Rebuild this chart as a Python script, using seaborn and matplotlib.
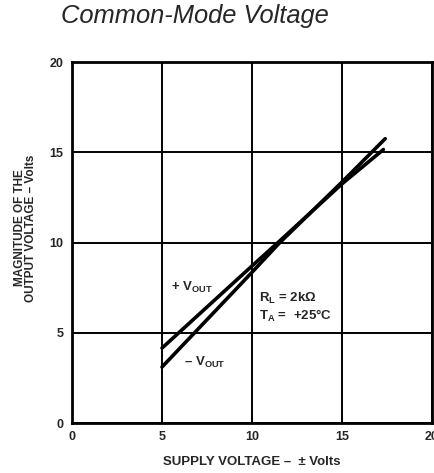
import matplotlib
matplotlib.use("Agg")
import matplotlib.pyplot as plt
import seaborn as sns
import pandas as pd

# values
supply = [5, 10, 11.5, 15, 17.3]
pos_vout = [4.15, 8.7, 10.05, 13.25, 15.15]
supply_neg = [5, 10, 11.5, 15, 17.4]
neg_vout = [3.1, 8.35, 9.95, 13.35, 15.75]
ticks = [0, 5, 10, 15, 20]

sns.set_style("white")
plt.rcParams['font.family'] = ['Liberation Sans', 'DejaVu Sans']
plt.rcParams['mathtext.fontset'] = 'custom'
plt.rcParams['mathtext.rm'] = 'Liberation Sans:bold'
plt.rcParams['mathtext.bf'] = 'Liberation Sans:bold'

df = pd.concat([
    pd.DataFrame({'supply': supply, 'vout': pos_vout, 'curve': '+Vout'}),
    pd.DataFrame({'supply': supply_neg, 'vout': neg_vout, 'curve': '-Vout'}),
])

fig = plt.figure(figsize=(4.35, 4.73), dpi=100)
ax = fig.add_axes([0.1655, 0.1057, 0.8276, 0.7632])

sns.lineplot(data=df, x='supply', y='vout', units='curve', estimator=None,
             color='black', lw=2.6, legend=False, ax=ax, sort=False)

ax.set_xlim(0, 20)
ax.set_ylim(0, 20)
ax.set_xticks(ticks)
ax.set_yticks(ticks)
ax.set_xticklabels([str(t) for t in ticks], fontsize=9, fontweight='bold')
ax.set_yticklabels([str(t) for t in ticks], fontsize=9, fontweight='bold')
ax.tick_params(length=0, pad=6)
ax.grid(True, color='black', lw=1.4)
for s in ax.spines.values():
    s.set_color('black')
    s.set_linewidth(2)

ax.set_xlabel('SUPPLY VOLTAGE –  ± Volts', fontsize=9.5, fontweight='bold', labelpad=9)
ax.set_ylabel('MAGNITUDE OF THE\nOUTPUT VOLTAGE – Volts', fontsize=8.5,
              fontweight='bold', linespacing=0.95)
ax.yaxis.set_label_coords(-0.097, 0.54)

ax.text(5.5, 7.5, r'+ V$_{\mathrm{OUT}}$', fontsize=9.5, fontweight='bold', va='center')
ax.text(6.2, 3.35, r'– V$_{\mathrm{OUT}}$', fontsize=9.5, fontweight='bold', va='center')
ax.text(10.4, 6.4, 'R$_{\\mathrm{L}}$ = 2kΩ\nT$_{\\mathrm{A}}$ =  +25°C', fontsize=9.5,
        fontweight='bold', va='center', linespacing=1.1)

fig.text(0.448, 0.966, 'Common-Mode Voltage', fontsize=18.4, style='italic',
         ha='center', va='center')

fig.savefig('out.png', dpi=100)
